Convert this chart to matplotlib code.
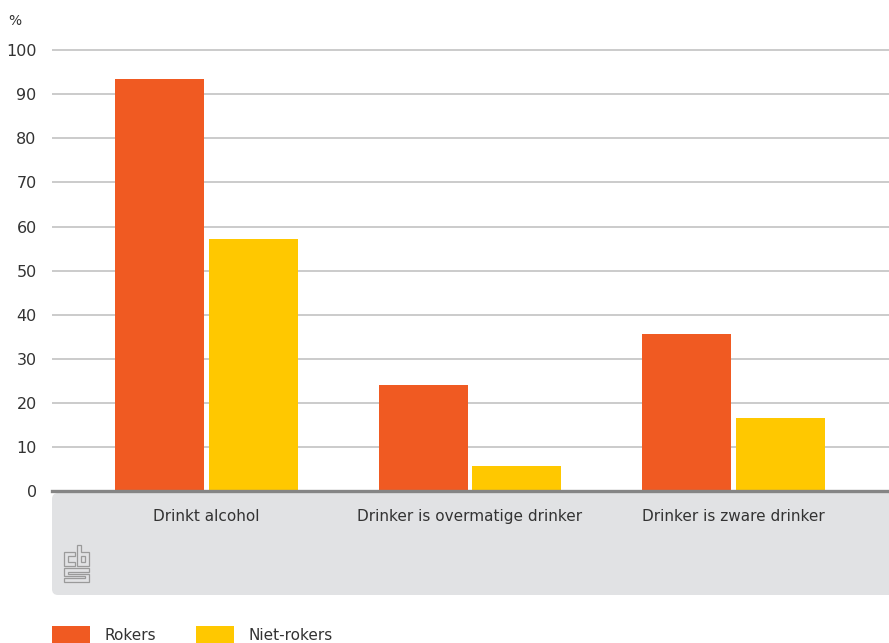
import matplotlib
matplotlib.use("Agg")
import matplotlib.pyplot as plt
import matplotlib.transforms as mtransforms
from matplotlib.patches import FancyBboxPatch, Rectangle, Polygon
import numpy as np

# ── Data ──────────────────────────────────────────────────────────────────────
categories = ["Drinkt alcohol", "Drinker is overmatige drinker", "Drinker is zware drinker"]
series_names = ["Rokers", "Niet-rokers"]
rokers = [93.4, 24.0, 35.6]
niet_rokers = [57.1, 5.7, 16.6]
y_ticks = [0, 10, 20, 30, 40, 50, 60, 70, 80, 90, 100]

# ── Style ─────────────────────────────────────────────────────────────────────
COL_ROKERS = "#F05A22"
COL_NIET = "#FFC800"
COL_GRID = "#BDBDBD"
COL_ZERO = "#858585"
COL_BOX = "#E1E2E4"
COL_TEXT = "#333333"
COL_LOGO = "#9A9A9A"

W, H = 889, 643
fig = plt.figure(figsize=(W / 100, H / 100), dpi=100)

# pixel transform (origin top-left) for decorations
px = mtransforms.Affine2D().scale(1 / W, -1 / H).translate(0, 1) + fig.transFigure

ax_left, ax_right, ax_top, ax_bot = 52, 889, 48, 491
ax = fig.add_axes([ax_left / W, 1 - ax_bot / H,
                   (ax_right - ax_left) / W, (ax_bot - ax_top) / H])

x = np.arange(len(categories))
bw = 0.338
off = 0.178
ax.bar(x - off, rokers, width=bw, color=COL_ROKERS, zorder=3, label=series_names[0])
ax.bar(x + off, niet_rokers, width=bw, color=COL_NIET, zorder=3, label=series_names[1])

ax.set_xlim(-0.586, 2.59)
ax.set_ylim(0, 100.5)
ax.set_yticks(y_ticks)
ax.set_yticklabels([str(t) for t in y_ticks], fontsize=11.5, color=COL_TEXT)
for t in y_ticks[1:]:
    ax.axhline(t, color=COL_GRID, lw=1.1, zorder=1)
ax.axhline(0, color=COL_ZERO, lw=2.4, zorder=4, clip_on=False)

ax.set_xticks(x)
ax.set_xticklabels(categories, fontsize=11, color=COL_TEXT)
ax.tick_params(axis="both", length=0)
ax.tick_params(axis="x", pad=13)
ax.tick_params(axis="y", pad=11)
for s in ax.spines.values():
    s.set_visible(False)

# "%" unit label
fig.text(8 / W, 1 - 21 / H, "%", fontsize=10, color=COL_TEXT, va="center", ha="left")

# grey footer box behind category labels
box = FancyBboxPatch((ax_left, 493), ax_right - ax_left + 10, 102,
                     boxstyle="round,pad=0,rounding_size=6",
                     transform=px, facecolor=COL_BOX, edgecolor="none", zorder=-1)
fig.add_artist(box)

# simplified CBS logo
logo_shapes = [
    [(75, 552), (64, 552), (64, 566), (75, 566), (75, 562), (68, 562), (68, 556), (75, 556)],
    [(77, 545), (81, 545), (81, 552), (89, 552), (89, 566), (77, 566)],
    [(81, 556), (85, 556), (85, 562), (81, 562)],
    [(89, 568), (64, 568), (64, 576), (85, 576), (85, 578), (64, 578), (64, 582),
     (89, 582), (89, 574), (68, 574), (68, 572), (89, 572)],
]
for pts in logo_shapes:
    fig.add_artist(Polygon(pts, closed=True, fill=False, edgecolor=COL_LOGO,
                           lw=0.9, transform=px, zorder=1))

# legend (manual, as in the original bottom strip)
legend_items = [(52, COL_ROKERS, series_names[0]), (196, COL_NIET, series_names[1])]
for x0, col, name in legend_items:
    fig.add_artist(Rectangle((x0, 626), 38, 20, transform=px, facecolor=col,
                             edgecolor="none", zorder=1))
    fig.text((x0 + 53) / W, 1 - 636 / H, name, fontsize=11, color=COL_TEXT,
             va="center", ha="left")

fig.savefig("out.png", dpi=100)
